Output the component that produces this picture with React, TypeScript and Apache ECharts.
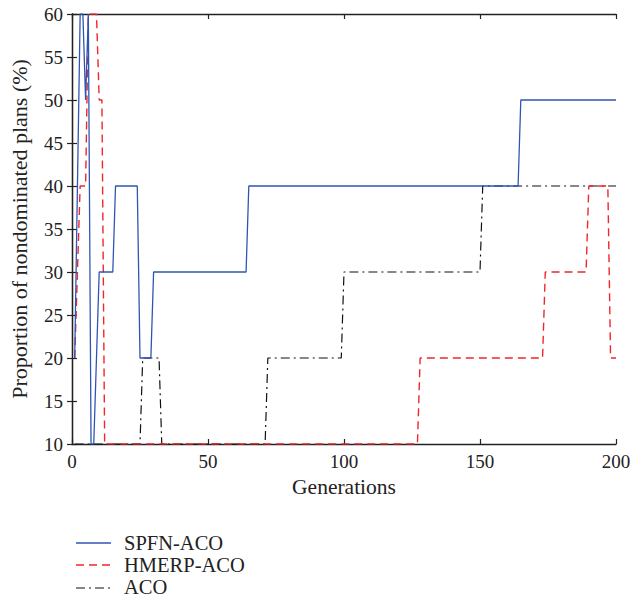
import React, { useEffect, useRef } from "react";
import * as echarts from "echarts";

const xTicks = { min: 0, max: 200, interval: 50 };
const yTicks = { min: 10, max: 60, interval: 5 };

const seriesNames = ["SPFN-ACO", "HMERP-ACO", "ACO"];

const spfnPoints: number[][] = [
  [1, 20], [3, 60], [4, 60], [5, 50], [6, 60], [7, 10], [8, 10], [10, 30],
  [15, 30], [16, 40], [24, 40], [25, 20], [29, 20], [30, 30], [64, 30],
  [65, 40], [164, 40], [165, 50], [200, 50],
];

const hmerpPoints: number[][] = [
  [1, 20], [3, 40], [5, 40], [6, 60], [9, 60], [10, 50], [11, 50], [12, 10],
  [127, 10], [128, 20], [173, 20], [174, 30], [189, 30], [190, 40],
  [197, 40], [198, 20], [200, 20],
];

const acoPoints: number[][] = [
  [1, 10], [25, 10], [26, 20], [32, 20], [33, 10], [71, 10], [72, 20],
  [99, 20], [100, 30], [150, 30], [151, 40], [200, 40],
];

const FONT = "Liberation Serif";
const BLUE = "#2f55b4";
const RED = "#f0262a";
const BLACK = "#111111";

export default function App() {
  const ref = useRef<HTMLDivElement>(null);
  useEffect(() => {
    if (!ref.current) return;
    const chart = echarts.init(ref.current, undefined, { renderer: "svg" });
    const axisLine = { show: true, lineStyle: { color: "#222", width: 1.3 } };
    const tick = { show: true, inside: true, length: 5, lineStyle: { color: "#222", width: 1.2 } };
    const label = { color: "#222", fontFamily: FONT, fontSize: 19 };
    chart.setOption({
      animation: false,
      backgroundColor: "#fff",
      grid: { left: 72, right: 18, top: 14, bottom: 155, containLabel: false },
      xAxis: [
        {
          type: "value",
          ...xTicks,
          position: "bottom",
          axisLine,
          axisTick: tick,
          axisLabel: { ...label, margin: 8 },
          splitLine: { show: false },
          name: "Generations",
          nameLocation: "middle",
          nameGap: 29,
          nameTextStyle: { color: "#222", fontFamily: FONT, fontSize: 21.5 },
        },
        {
          type: "value",
          ...xTicks,
          position: "top",
          axisLine,
          axisTick: tick,
          axisLabel: { show: false },
          splitLine: { show: false },
        },
      ],
      yAxis: [
        {
          type: "value",
          ...yTicks,
          position: "left",
          axisLine,
          axisTick: tick,
          axisLabel: { ...label, margin: 9 },
          splitLine: { show: false },
          name: "Proportion of nondominated plans (%)",
          nameLocation: "middle",
          nameGap: 42,
          nameTextStyle: { color: "#222", fontFamily: FONT, fontSize: 22 },
        },
        {
          type: "value",
          ...yTicks,
          position: "right",
          axisLine,
          axisTick: tick,
          axisLabel: { show: false },
          splitLine: { show: false },
        },
      ],
      series: [
        {
          name: seriesNames[2],
          type: "line",
          data: acoPoints,
          showSymbol: false,
          symbol: "none",
          lineStyle: { color: BLACK, width: 1.2, type: [9, 4, 2, 4] },
          z: 2,
        },
        {
          name: seriesNames[1],
          type: "line",
          data: hmerpPoints,
          showSymbol: false,
          symbol: "none",
          lineStyle: { color: RED, width: 1.4, type: [8, 5] },
          z: 3,
        },
        {
          name: seriesNames[0],
          type: "line",
          data: spfnPoints,
          showSymbol: false,
          symbol: "none",
          lineStyle: { color: BLUE, width: 1.3 },
          z: 4,
        },
      ],
      graphic: [
        { type: "line", shape: { x1: 76, y1: 543, x2: 111, y2: 543 }, style: { stroke: BLUE, lineWidth: 1.3 } },
        { type: "line", shape: { x1: 76, y1: 565, x2: 111, y2: 565 }, style: { stroke: RED, lineWidth: 1.4, lineDash: [8, 5] } },
        { type: "line", shape: { x1: 76, y1: 588, x2: 111, y2: 588 }, style: { stroke: BLACK, lineWidth: 1.2, lineDash: [9, 4, 2, 4] } },
        { type: "text", x: 124, y: 543, style: { text: seriesNames[0], fontFamily: FONT, fontSize: 20.5, fill: "#222", verticalAlign: "middle" } },
        { type: "text", x: 124, y: 565, style: { text: seriesNames[1], fontFamily: FONT, fontSize: 20.5, fill: "#222", verticalAlign: "middle" } },
        { type: "text", x: 124, y: 587, style: { text: seriesNames[2], fontFamily: FONT, fontSize: 20.5, fill: "#222", verticalAlign: "middle" } },
      ],
    });
    return () => chart.dispose();
  }, []);
  return <div ref={ref} style={{ width: 634, height: 599, position: "absolute", left: 0, top: 0 }} />;
}
